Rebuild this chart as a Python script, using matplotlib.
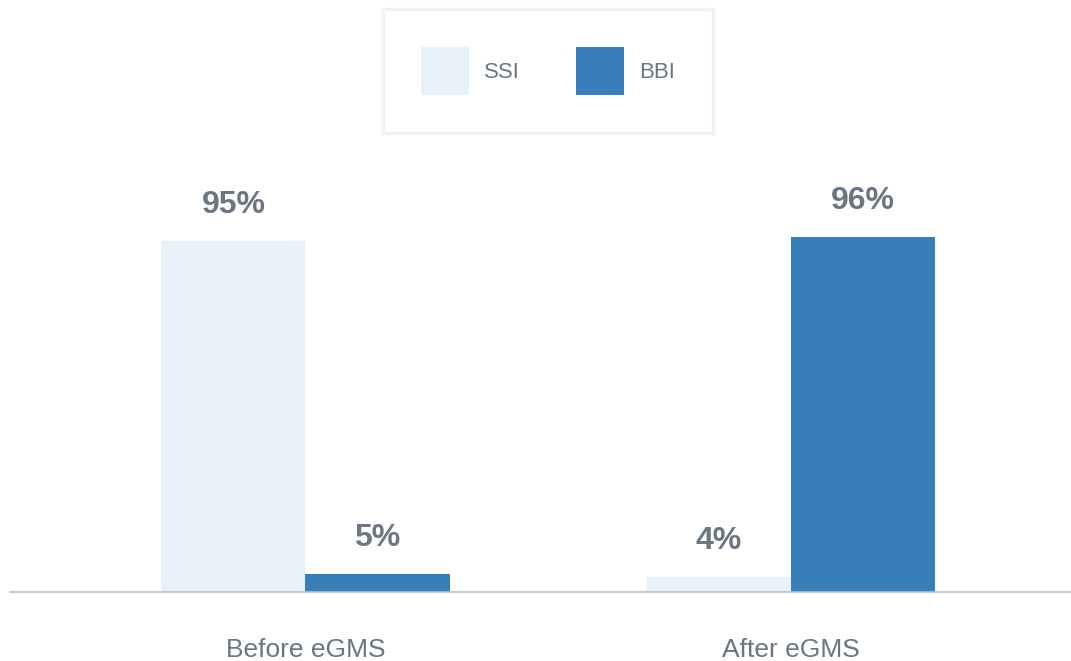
import matplotlib
matplotlib.use("Agg")
import matplotlib.pyplot as plt
import numpy as np

# data
groups = ["Before eGMS", "After eGMS"]
series_names = ["SSI", "BBI"]
ssi_values = [95, 4]
bbi_values = [5, 96]

ssi_color = "#e7f1f8"
bbi_color = "#387eb8"
text_color = "#6a7585"

plt.rcParams['font.family'] = ['Liberation Sans', 'DejaVu Sans']

fig = plt.figure(figsize=(10.71, 6.61), dpi=100)
ax = fig.add_axes([10 / 1071, 69 / 661, 1061 / 1071, 452 / 661])

x = np.arange(len(groups))
w = 0.297
bars_ssi = ax.bar(x - w / 2, ssi_values, w, color=ssi_color, label=series_names[0])
bars_bbi = ax.bar(x + w / 2, bbi_values, w, color=bbi_color, label=series_names[1])

for bars, vals in [(bars_ssi, ssi_values), (bars_bbi, bbi_values)]:
    for b, v in zip(bars, vals):
        ax.annotate(f"{v}%", (b.get_x() + b.get_width() / 2, v),
                    xytext=(0, 15), textcoords="offset points",
                    ha="center", va="bottom", fontsize=23, fontweight="bold",
                    color=text_color)

ax.set_xlim(-0.609, 1.578)
ax.set_ylim(0, 122.2)
ax.set_xticks(x)
ax.set_xticklabels(groups, fontsize=19, color=text_color)
ax.tick_params(axis="x", length=0, pad=33)
ax.set_yticks([])
for s in ["top", "right", "left"]:
    ax.spines[s].set_visible(False)
ax.spines["bottom"].set_color("#a9c4dc")
ax.spines["bottom"].set_linewidth(1.2)

leg = fig.legend(loc="center", bbox_to_anchor=(548 / 1071, 1 - 71 / 661), ncol=2,
                 fontsize=16, frameon=True, fancybox=False,
                 handlelength=2.16, handleheight=3.0, handletextpad=0.68,
                 columnspacing=2.55, borderpad=1.7, labelcolor=text_color)
leg.get_frame().set_edgecolor("#e6f0f8")
leg.get_frame().set_linewidth(2.5)

fig.savefig("out.png", dpi=100)
